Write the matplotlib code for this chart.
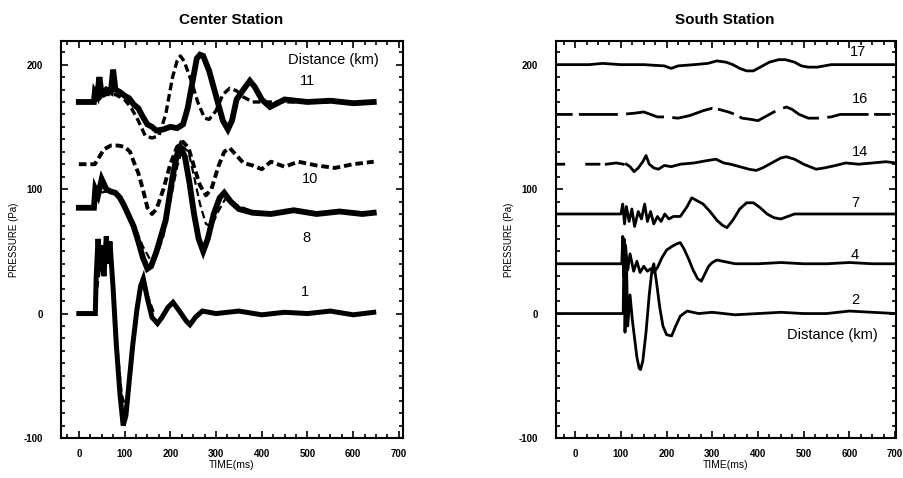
import numpy as np
import matplotlib
matplotlib.use("Agg")
import matplotlib.pyplot as plt
from matplotlib.ticker import MultipleLocator

plt.rcParams['font.family'] = ['Liberation Sans', 'DejaVu Sans']
plt.rcParams['lines.scale_dashes'] = False
plt.rcParams['axes.unicode_minus'] = False
nan = np.nan

# ---------------- Center Station (left) ----------------
c11_solid_t = [0, 33, 35, 40, 45, 50, 60, 70, 75, 80, 90, 100, 110, 120, 130, 140, 150, 160, 170, 185, 200, 215, 228, 238, 248, 258, 265, 272, 285, 300, 315, 326, 335, 345, 360, 374, 385, 400, 418, 450, 500, 550, 600, 645]
c11_solid_p = [170, 170, 178, 175, 190, 176, 180, 178, 196, 180, 178, 175, 173, 168, 165, 158, 152, 150, 147, 148, 150, 149, 152, 165, 185, 205, 208, 207, 195, 175, 155, 148, 155, 172, 180, 187, 182, 172, 166, 172, 170, 171, 169, 170]

c11_dash_t = [30, 40, 60, 80, 100, 115, 130, 145, 160, 175, 190, 205, 215, 222, 230, 245, 260, 275, 285, 300, 315, 330, 345, 360, 380, 420, 500, 600, 645]
c11_dash_p = [170, 172, 176, 176, 172, 165, 155, 143, 141, 143, 160, 190, 203, 207, 203, 188, 170, 157, 156, 163, 176, 181, 179, 174, 170, 170, 170, 170, 170]

c10_dash_t = [0, 35, 45, 55, 70, 85, 100, 112, 120, 130, 140, 150, 160, 170, 185, 200, 215, 228, 240, 252, 265, 278, 290, 305, 318, 330, 345, 360, 380, 400, 420, 450, 480, 520, 560, 600, 645]
c10_dash_p = [120, 120, 126, 132, 135, 135, 134, 130, 122, 113, 100, 85, 80, 84, 100, 120, 134, 138, 133, 118, 103, 95, 100, 118, 130, 133, 127, 121, 119, 116, 122, 118, 122, 119, 117, 120, 122]

c8_solid_t = [0, 33, 36, 42, 50, 60, 70, 80, 90, 100, 110, 120, 130, 140, 150, 158, 170, 190, 205, 215, 222, 232, 242, 252, 262, 272, 282, 295, 308, 318, 332, 350, 380, 420, 470, 520, 570, 620, 645]
c8_solid_p = [85, 85, 100, 95, 108, 100, 98, 97, 93, 86, 78, 70, 58, 45, 36, 38, 50, 75, 110, 128, 134, 126, 105, 80, 60, 50, 60, 80, 93, 97, 90, 84, 81, 80, 83, 80, 82, 80, 81]

c8_dash_t = [36, 45, 60, 80, 100, 120, 140, 155, 170, 185, 200, 215, 228, 240, 252, 265, 278, 290, 305, 320, 340, 380]
c8_dash_p = [90, 97, 98, 96, 88, 72, 54, 44, 46, 62, 90, 118, 134, 130, 110, 88, 72, 70, 82, 92, 88, 82]

c1_solid_t = [0, 36, 38, 42, 46, 50, 55, 60, 65, 68, 75, 82, 90, 97, 103, 110, 118, 127, 135, 141, 150, 160, 172, 182, 195, 206, 220, 235, 243, 255, 270, 300, 350, 400, 450, 500, 550, 600, 645]
c1_solid_p = [0, 0, 30, 60, 35, 55, 30, 62, 40, 58, 20, -25, -65, -90, -82, -55, -25, 3, 22, 28, 12, -3, -8, -3, 5, 9, 2, -6, -9, -3, 2, 0, 2, -1, 1, 0, 2, -1, 1]

c1_dash_t = [40, 50, 60, 70, 78, 86, 94, 102, 110, 120, 130, 140, 150, 165]
c1_dash_p = [20, 45, 55, 40, 5, -35, -65, -75, -58, -25, 8, 25, 15, 0]

center_labels = ['Distance (km)', '11', '10', '8', '1']
center_label_t = [556, 501, 505, 497, 494]
center_label_p = [204, 187, 108, 61, 17]

# ---------------- South Station (right) ----------------
s17_t = [-42, 30, 60, 100, 150, 195, 210, 225, 260, 290, 310, 330, 345, 360, 375, 390, 405, 425, 445, 460, 480, 495, 510, 530, 560, 600, 650, 702]
s17_p = [200, 200, 201, 200, 200, 199, 197, 199, 200, 201, 203, 202, 200, 197, 195, 195, 198, 202, 204, 204, 202, 199, 198, 198, 200, 200, 200, 200]

s16_t = [-42, 20, 60, 100, 130, 150, 180, 200, 225, 250, 280, 300, 315, 335, 350, 365, 385, 400, 420, 440, 462, 475, 490, 510, 530, 560, 580, 600, 620, 650, 702]
s16_p = [160, 160, 160, 160, 161, 162, 158, 158, 157, 159, 163, 165, 164, 162, 160, 157, 156, 155, 159, 163, 166, 164, 160, 157, 157, 158, 160, 160, 160, 160, 160]

s14_t = [-42, -25, nan, 25, 52, nan, 68, 90, 105, nan, 112, 120, 129, 138, 148, 155, 162, 172, 182, 195, 210, 230, 260, 290, 308, 325, 340, 360, 380, 396, 410, 430, 450, 462, 480, 500, 527, 545, 570, 592, 620, 650, 680, 702]
s14_p = [120, 120, nan, 120, 120, nan, 120, 121, 120, nan, 120, 118, 114, 117, 122, 127, 120, 117, 116, 119, 118, 120, 121, 123, 124, 121, 120, 118, 116, 115, 117, 121, 125, 126, 124, 120, 116, 117, 119, 121, 120, 121, 122, 121]

s7_t = [-42, 100, 104, 108, 112, 118, 124, 130, 138, 145, 152, 158, 165, 172, 180, 188, 196, 205, 215, 230, 245, 255, 265, 280, 295, 310, 322, 332, 345, 360, 375, 390, 405, 420, 435, 450, 465, 480, 550, 600, 650, 702]
s7_p = [80, 80, 88, 72, 86, 74, 84, 70, 82, 76, 88, 74, 82, 72, 78, 74, 80, 76, 78, 78, 86, 93, 91, 88, 82, 75, 71, 69, 75, 84, 89, 89, 85, 80, 77, 76, 78, 80, 80, 80, 80, 80]

s4_t = [-42, 102, 104, 106, 110, 115, 120, 128, 135, 142, 150, 158, 165, 172, 180, 190, 200, 212, 222, 230, 238, 248, 258, 268, 276, 284, 292, 300, 310, 350, 400, 450, 500, 550, 600, 650, 702]
s4_p = [40, 40, 62, 30, 55, 35, 48, 34, 42, 33, 38, 34, 36, 33, 37, 45, 51, 54, 56, 57, 52, 44, 35, 28, 26, 32, 38, 41, 43, 40, 40, 41, 40, 40, 41, 40, 40]

s2_t = [-42, 105, 107, 109, 112, 115, 120, 125, 130, 135, 140, 143, 148, 155, 162, 168, 172, 178, 185, 192, 200, 211, 220, 230, 245, 270, 300, 350, 400, 450, 500, 550, 600, 650, 702]
s2_p = [0, 0, 60, -15, 45, -10, 15, -5, -20, -35, -44, -45, -38, -15, 15, 35, 40, 25, 5, -10, -17, -18, -10, -2, 2, 0, 1, -1, 0, 1, 0, 0, 2, 1, 0]

south_labels = ['17', '16', '14', '7', '4', '2']
south_label_t = [619, 623, 623, 612, 612, 612]
south_label_p = [210, 172, 130, 89, 47, 11]
south_dist_t, south_dist_p = 562, -17

xticks = [0, 100, 200, 300, 400, 500, 600, 700]
yticks = [-100, 0, 100, 200]

# ---------------- Figure ----------------
W, H = 904, 478
fig = plt.figure(figsize=(W / 100, H / 100), dpi=100)
ax1 = fig.add_axes([61 / W, 1 - 438 / H, (403 - 61) / W, (438 - 41) / H])
ax2 = fig.add_axes([556 / W, 1 - 438 / H, (896 - 556) / W, (438 - 41) / H])

K = 'black'
dash_short = (0, (5.5, 2.8))

ax1.plot(c11_dash_t, c11_dash_p, color=K, lw=2.4, ls=dash_short)
ax1.plot(c10_dash_t, c10_dash_p, color=K, lw=2.8, ls=dash_short)
ax1.plot(c8_dash_t, c8_dash_p, color=K, lw=1.6, ls=dash_short)
ax1.plot(c1_dash_t, c1_dash_p, color=K, lw=1.6, ls=dash_short)
ax1.plot(c11_solid_t, c11_solid_p, color=K, lw=4.2, solid_joinstyle='miter')
ax1.plot(c8_solid_t, c8_solid_p, color=K, lw=4.2, solid_joinstyle='miter')
ax1.plot(c1_solid_t, c1_solid_p, color=K, lw=3.6, solid_joinstyle='miter')

for lab, tx, py in zip(center_labels, center_label_t, center_label_p):
    ax1.text(tx, py, lab, ha='center', va='center', fontsize=10.5)

ax2.plot(s17_t, s17_p, color=K, lw=2.0)
ax2.plot(s16_t, s16_p, color=K, lw=2.0, ls=(0, (12, 4.5, 28, 6, 28, 6, 30, 4)))
ax2.plot(s14_t, s14_p, color=K, lw=2.0)
ax2.plot(s7_t, s7_p, color=K, lw=2.0)
ax2.plot(s4_t, s4_p, color=K, lw=2.0)
ax2.plot(s2_t, s2_p, color=K, lw=2.0)
for lab, tx, py in zip(south_labels, south_label_t, south_label_p):
    ax2.text(tx, py, lab, ha='center', va='center', fontsize=10.5)
ax2.text(south_dist_t, south_dist_p, 'Distance (km)', ha='center', va='center', fontsize=10.5)

for ax, xl in [(ax1, (-39, 709)), (ax2, (-42, 702))]:
    ax.set_xlim(*xl)
    ax.set_ylim(-100, 219)
    ax.set_xticks(xticks)
    ax.set_yticks(yticks)
    ax.xaxis.set_minor_locator(MultipleLocator(25))
    ax.yaxis.set_minor_locator(MultipleLocator(10))
    ax.tick_params(which='both', direction='in', top=True, right=True, width=1.2)
    ax.tick_params(which='major', length=5)
    ax.tick_params(which='minor', length=3)
    ax.tick_params(axis='x', which='major', pad=8, labelsize=7)
    ax.tick_params(axis='y', which='major', pad=13, labelsize=7)
    for s in ax.spines.values():
        s.set_linewidth(1.5)
    ax.set_xlabel('TIME(ms)', fontsize=7.5, labelpad=1)
    ax.set_ylabel('PRESSURE (Pa)', fontsize=7, labelpad=3)
    for lbl in ax.get_xticklabels() + ax.get_yticklabels():
        lbl.set_fontweight('bold')

fig.text(231 / W, 1 - 20 / H, 'Center Station', ha='center', va='center', fontsize=11, fontweight='bold')
fig.text(725 / W, 1 - 20 / H, 'South Station', ha='center', va='center', fontsize=11, fontweight='bold')

fig.savefig('out.png', dpi=100)
